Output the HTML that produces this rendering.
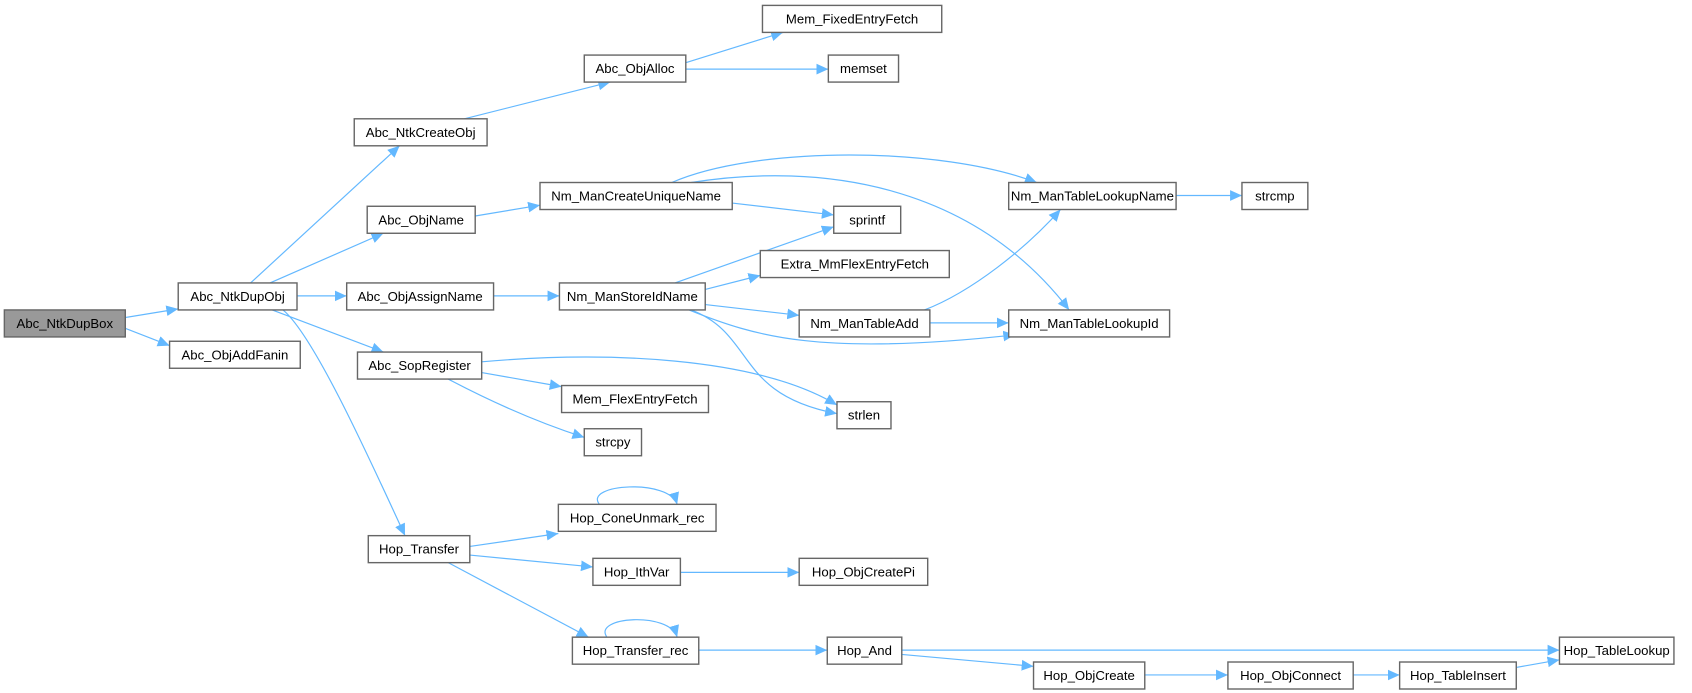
<!DOCTYPE html>
<html><head><meta charset="utf-8"><style>
html,body{margin:0;padding:0;background:#fff;width:1692px;height:693px;overflow:hidden}
svg{display:block}
text{font-family:"Liberation Sans",Arial,sans-serif;font-size:12.2px;fill:#000;text-anchor:middle;dominant-baseline:central}
.n{fill:#fff;stroke:#666;stroke-width:1.3}
.e{fill:none;stroke:#63b8ff;stroke-width:1.1}
</style></head><body>
<svg width="1692" height="693" viewBox="0 0 1566.7 641.7" xmlns="http://www.w3.org/2000/svg">
<defs><marker id="a" viewBox="0 0 10 10" refX="10" refY="5" markerWidth="11" markerHeight="11" markerUnits="userSpaceOnUse" orient="auto"><path d="M0,0.5 L10,5 L0,9.5 z" fill="#63b8ff"/></marker></defs>
<g class="e" marker-end="url(#a)">
<path d="M116,294 L165,286"/>
<path d="M116,304 L157,320"/>
<path d="M232,262 L370,135"/>
<path d="M250,262 L355,216"/>
<path d="M275,274 L321,274"/>
<path d="M252,287 L355,326"/>
<path d="M262,287 C290,310 340,420 375,496"/>
<path d="M430,110 L565,76"/>
<path d="M635,58 L725,30"/>
<path d="M635,64 L767,64"/>
<path d="M440,200 L500,190"/>
<path d="M622,169 C700,135 870,135 960,169"/>
<path d="M640,169 C760,150 900,170 990,287"/>
<path d="M678,188 L772,199"/>
<path d="M457,274 L518,274"/>
<path d="M625,262 L772,210"/>
<path d="M653,268 L704,255"/>
<path d="M653,282 L740,292"/>
<path d="M638,287 C700,312 760,330 940,310"/>
<path d="M640,287 C700,310 680,365 775,383"/>
<path d="M446,335 C560,325 700,330 775,375"/>
<path d="M856,287 C900,270 950,230 982,194"/>
<path d="M861,299 L934,299"/>
<path d="M1089,181 L1150,181"/>
<path d="M446,345 L520,358"/>
<path d="M415,351 C470,380 510,395 541,405"/>
<path d="M435,506 L517,494"/>
<path d="M435,514 L549,525"/>
<path d="M415,521 L545,590"/>
<path d="M555,467 C540,448 620,443 627,467"/>
<path d="M630,530 L740,530"/>
<path d="M562,590 C548,571 620,566 627,590"/>
<path d="M647,602 L766,602"/>
<path d="M835,602 L1444,602"/>
<path d="M835,606 L957,617"/>
<path d="M1060,625 L1137,625"/>
<path d="M1253,625 L1296,625"/>
<path d="M1404,618 L1444,611"/>
</g>
<g>
<rect x="4" y="287" width="112" height="25" fill="#999" stroke="#666" stroke-width="1.3"/><text x="60" y="299.5">Abc_NtkDupBox</text>
<rect class="n" x="165" y="262" width="110" height="25"/><text x="220" y="274.5">Abc_NtkDupObj</text>
<rect class="n" x="157" y="316" width="121" height="25"/><text x="217.5" y="328.5">Abc_ObjAddFanin</text>
<rect class="n" x="328" y="110" width="123" height="25"/><text x="389.5" y="122.5">Abc_NtkCreateObj</text>
<rect class="n" x="340" y="191" width="100" height="25"/><text x="390" y="203.5">Abc_ObjName</text>
<rect class="n" x="321" y="262" width="136" height="25"/><text x="389" y="274.5">Abc_ObjAssignName</text>
<rect class="n" x="331" y="326" width="115" height="25"/><text x="388.5" y="338.5">Abc_SopRegister</text>
<rect class="n" x="341" y="496" width="94" height="25"/><text x="388" y="508.5">Hop_Transfer</text>
<rect class="n" x="541" y="51" width="94" height="25"/><text x="588" y="63.5">Abc_ObjAlloc</text>
<rect class="n" x="706" y="5" width="166" height="25"/><text x="789" y="17.5">Mem_FixedEntryFetch</text>
<rect class="n" x="767" y="51" width="65" height="25"/><text x="799.5" y="63.5">memset</text>
<rect class="n" x="500" y="169" width="178" height="25"/><text x="589" y="181.5">Nm_ManCreateUniqueName</text>
<rect class="n" x="518" y="262" width="135" height="25"/><text x="585.5" y="274.5">Nm_ManStoreIdName</text>
<rect class="n" x="772" y="191" width="62" height="25"/><text x="803" y="203.5">sprintf</text>
<rect class="n" x="704" y="232" width="175" height="25"/><text x="791.5" y="244.5">Extra_MmFlexEntryFetch</text>
<rect class="n" x="740" y="287" width="121" height="25"/><text x="800.5" y="299.5">Nm_ManTableAdd</text>
<rect class="n" x="934" y="169" width="155" height="25"/><text x="1011.5" y="181.5">Nm_ManTableLookupName</text>
<rect class="n" x="934" y="287" width="149" height="25"/><text x="1008.5" y="299.5">Nm_ManTableLookupId</text>
<rect class="n" x="1150" y="169" width="61" height="25"/><text x="1180.5" y="181.5">strcmp</text>
<rect class="n" x="520" y="357" width="136" height="25"/><text x="588" y="369.5">Mem_FlexEntryFetch</text>
<rect class="n" x="775" y="372" width="50" height="25"/><text x="800" y="384.5">strlen</text>
<rect class="n" x="541" y="397" width="53" height="25"/><text x="567.5" y="409.5">strcpy</text>
<rect class="n" x="517" y="467" width="146" height="25"/><text x="590" y="479.5">Hop_ConeUnmark_rec</text>
<rect class="n" x="549" y="517" width="81" height="25"/><text x="589.5" y="529.5">Hop_IthVar</text>
<rect class="n" x="740" y="517" width="119" height="25"/><text x="799.5" y="529.5">Hop_ObjCreatePi</text>
<rect class="n" x="530" y="590" width="117" height="25"/><text x="588.5" y="602.5">Hop_Transfer_rec</text>
<rect class="n" x="766" y="590" width="69" height="25"/><text x="800.5" y="602.5">Hop_And</text>
<rect class="n" x="957" y="613" width="103" height="25"/><text x="1008.5" y="625.5">Hop_ObjCreate</text>
<rect class="n" x="1137" y="613" width="116" height="25"/><text x="1195" y="625.5">Hop_ObjConnect</text>
<rect class="n" x="1296" y="613" width="108" height="25"/><text x="1350" y="625.5">Hop_TableInsert</text>
<rect class="n" x="1444" y="590" width="106" height="25"/><text x="1497" y="602.5">Hop_TableLookup</text>
</g>
</svg>
</body></html>
